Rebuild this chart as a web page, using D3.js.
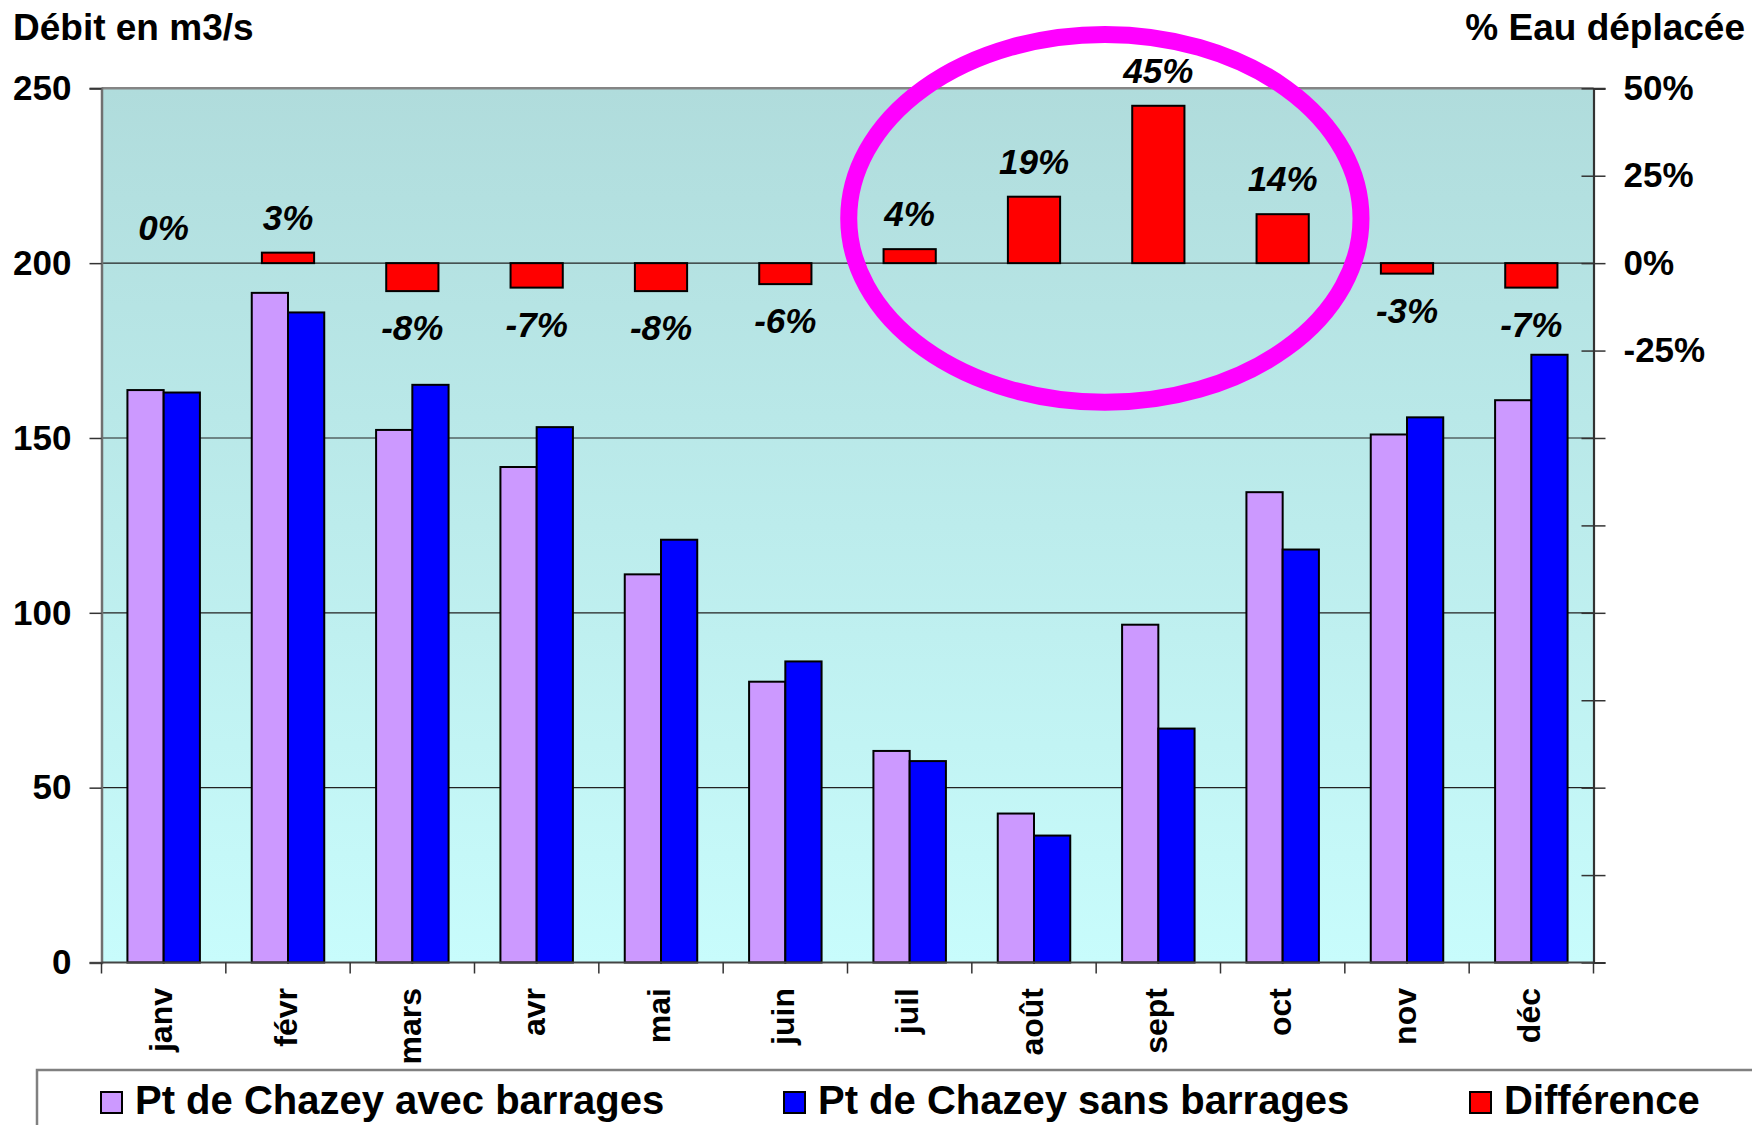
<!DOCTYPE html>
<html lang="fr">
<head>
<meta charset="utf-8">
<script src="https://cdn.jsdelivr.net/npm/d3@7"></script>
<style>
  html, body { margin: 0; padding: 0; background: #ffffff; }
  svg { display: block; font-family: "Liberation Sans", Arial, sans-serif; }
</style>
</head>
<body>
<svg id="chart" width="1752" height="1125"></svg>
<script>
// Débits mensuels au Pont de Chazey, avec et sans barrages (m3/s)
const months = ["janv", "févr", "mars", "avr", "mai", "juin", "juil", "août", "sept", "oct", "nov", "déc"];
const avecBarrages = [163.7, 191.5, 152.3, 141.7, 111.0, 80.3, 60.5, 42.6, 96.6, 134.5, 151.0, 160.8];
const sansBarrages = [163.0, 185.9, 165.2, 153.1, 120.9, 86.1, 57.6, 36.3, 66.9, 118.1, 155.9, 173.8];
// Part d'eau déplacée (%) – axe secondaire
const difference = [0, 3, -8, -7, -8, -6, 4, 19, 45, 14, -3, -7];

const leftTicks = [0, 50, 100, 150, 200, 250];
const rightTicks = [-200, -175, -150, -125, -100, -75, -50, -25, 0, 25, 50];
const rightLabelled = [-25, 0, 25, 50];

const seriesNames = ["Pt de Chazey avec barrages", "Pt de Chazey sans barrages", "Différence"];
const seriesColors = ["#CC99FF", "#0000FF", "#FF0000"];

// Annotation: ellipse around the summer months (band units / left-axis units)
const highlight = { centerBand: 8.07, centerValue: 212.8, rxBands: 2.06, ryValue: 52.6 };

const svg = d3.select("#chart");
const plot = { left: 101.5, right: 1593.5, top: 88.3, bottom: 962.5 };

const x = d3.scaleBand().domain(months).range([plot.left, plot.right])
  .paddingInner(0.417).paddingOuter(0.2085);
const xSeries = d3.scaleBand().domain([0, 1]).range([0, x.bandwidth()]);
const xDiff = d3.scaleBand().domain(months).range([plot.left, plot.right])
  .paddingInner(0.58).paddingOuter(0.29);
const xPos = d3.scaleLinear().domain([0, months.length]).range([plot.left, plot.right]);

const y = d3.scaleLinear().domain([0, 250]).range([plot.bottom, plot.top]);
const y2 = d3.scaleLinear().domain([-200, 50]).range([plot.bottom, plot.top]);

// Plot background gradient
const defs = svg.append("defs");
const grad = defs.append("linearGradient").attr("id", "bg").attr("x1", 0).attr("y1", 0).attr("x2", 0).attr("y2", 1);
grad.append("stop").attr("offset", "0%").attr("stop-color", "#B0DCDC");
grad.append("stop").attr("offset", "100%").attr("stop-color", "#C8FCFC");

svg.append("rect")
  .attr("x", plot.left).attr("y", plot.top)
  .attr("width", plot.right - plot.left).attr("height", plot.bottom - plot.top)
  .attr("fill", "url(#bg)");

// Horizontal gridlines
svg.append("g").selectAll("line")
  .data(leftTicks.filter(d => d > 0 && d < 250))
  .join("line")
  .attr("x1", plot.left).attr("x2", plot.right)
  .attr("y1", d => y(d)).attr("y2", d => y(d))
  .attr("stroke", "#222").attr("stroke-width", 1.2);

// Top border of the plot area
svg.append("line")
  .attr("x1", plot.left).attr("x2", plot.right)
  .attr("y1", y(250)).attr("y2", y(250))
  .attr("stroke", "#858585").attr("stroke-width", 2.5);

// Débit bars
const groups = svg.append("g").selectAll("g")
  .data(months)
  .join("g")
  .attr("transform", d => `translate(${x(d)},0)`);

groups.selectAll("rect")
  .data((m, i) => [avecBarrages[i], sansBarrages[i]].map((v, k) => ({ v, k })))
  .join("rect")
  .attr("x", d => xSeries(d.k))
  .attr("width", xSeries.bandwidth())
  .attr("y", d => y(d.v))
  .attr("height", d => y(0) - y(d.v))
  .attr("fill", d => seriesColors[d.k])
  .attr("stroke", "#000").attr("stroke-width", 2);

// Difference bars on the secondary axis
svg.append("g").selectAll("rect")
  .data(months.map((m, i) => ({ m, v: difference[i] })))
  .join("rect")
  .attr("x", d => xDiff(d.m))
  .attr("width", xDiff.bandwidth())
  .attr("y", d => y2(Math.max(0, d.v)))
  .attr("height", d => Math.abs(y2(d.v) - y2(0)))
  .attr("fill", seriesColors[2])
  .attr("stroke", "#000").attr("stroke-width", 2);

// Difference labels
svg.append("g").selectAll("text")
  .data(months.map((m, i) => ({ m, v: difference[i] })))
  .join("text")
  .attr("x", d => xDiff(d.m) + xDiff.bandwidth() / 2)
  .attr("y", d => d.v >= 0 ? y2(d.v) - 23 : y2(d.v) + 49)
  .attr("text-anchor", "middle")
  .attr("font-size", 35).attr("font-weight", "bold").attr("font-style", "italic")
  .attr("fill", "#000")
  .text(d => `${d.v}%`);

// Left axis
const leftAxis = svg.append("g")
  .attr("transform", `translate(${plot.left},0)`)
  .call(d3.axisLeft(y).tickValues(leftTicks).tickSize(12).tickPadding(18).tickFormat(d3.format("d")));
leftAxis.select(".domain").attr("stroke", "#707070").attr("stroke-width", 2.5);
leftAxis.selectAll(".tick line").attr("stroke", "#333").attr("stroke-width", 1.5);
leftAxis.selectAll(".tick text")
  .attr("font-size", 35).attr("font-weight", "bold").attr("fill", "#000")
  .attr("font-family", "Liberation Sans, Arial, sans-serif");

// Right axis (crossing ticks, labels only for the upper values)
const rightAxis = svg.append("g")
  .attr("transform", `translate(${plot.right},0)`)
  .call(d3.axisRight(y2).tickValues(rightTicks).tickSize(12).tickPadding(18)
    .tickFormat(d => rightLabelled.includes(d) ? `${d}%` : ""));
rightAxis.select(".domain").attr("stroke", "#333").attr("stroke-width", 2.2);
rightAxis.selectAll(".tick line").attr("x1", -12).attr("stroke", "#333").attr("stroke-width", 1.5);
rightAxis.selectAll(".tick text")
  .attr("font-size", 35).attr("font-weight", "bold").attr("fill", "#000")
  .attr("font-family", "Liberation Sans, Arial, sans-serif");

// Bottom axis: line and category-boundary ticks
svg.append("line")
  .attr("x1", plot.left).attr("x2", plot.right)
  .attr("y1", y(0)).attr("y2", y(0))
  .attr("stroke", "#444").attr("stroke-width", 2);
svg.append("g").selectAll("line")
  .data(d3.range(months.length + 1))
  .join("line")
  .attr("x1", d => xPos(d)).attr("x2", d => xPos(d))
  .attr("y1", y(0)).attr("y2", y(0) + 11)
  .attr("stroke", "#333").attr("stroke-width", 1.5);

// Month labels (rotated)
svg.append("g").selectAll("text")
  .data(months)
  .join("text")
  .attr("transform", d => `translate(${x(d) + x.bandwidth() / 2},988) rotate(-90)`)
  .attr("text-anchor", "end")
  .attr("dy", "0.27em")
  .attr("font-size", 32).attr("font-weight", "bold").attr("fill", "#000")
  .text(d => d);

// Axis titles
svg.append("text")
  .attr("x", 13).attr("y", 39.5)
  .attr("font-size", 37).attr("font-weight", "bold").attr("fill", "#000")
  .text("Débit en m3/s");
svg.append("text")
  .attr("x", 1745).attr("y", 39.5)
  .attr("text-anchor", "end")
  .attr("font-size", 37).attr("font-weight", "bold").attr("fill", "#000")
  .text("% Eau déplacée");

// Highlight ellipse
svg.append("ellipse")
  .attr("cx", xPos(highlight.centerBand))
  .attr("cy", y(highlight.centerValue))
  .attr("rx", xPos(highlight.rxBands) - xPos(0))
  .attr("ry", y(0) - y(highlight.ryValue))
  .attr("fill", "none")
  .attr("stroke", "#FF00FF").attr("stroke-width", 17);

// Legend
svg.append("rect")
  .attr("x", 37).attr("y", 1070)
  .attr("width", 1760).attr("height", 120)
  .attr("fill", "#fff").attr("stroke", "#808080").attr("stroke-width", 2.5);

const legendX = [101, 784, 1470];
const legend = svg.append("g").selectAll("g")
  .data(seriesNames.map((name, i) => ({ name, color: seriesColors[i], x: legendX[i] })))
  .join("g")
  .attr("transform", d => `translate(${d.x},1092)`);
legend.append("rect")
  .attr("width", 21).attr("height", 21)
  .attr("fill", d => d.color)
  .attr("stroke", "#000").attr("stroke-width", 2);
legend.append("text")
  .attr("x", 34).attr("y", 22)
  .attr("font-size", 40).attr("font-weight", "bold").attr("fill", "#000")
  .text(d => d.name);
</script>
</body>
</html>
